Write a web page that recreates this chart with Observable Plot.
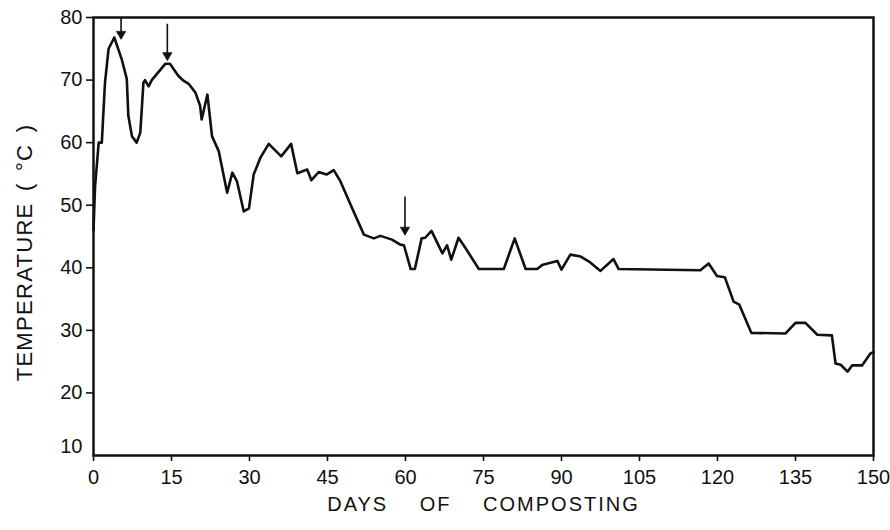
<!DOCTYPE html>
<html>
<head>
<meta charset="utf-8">
<script src="https://cdn.jsdelivr.net/npm/d3@7"></script>
<script src="https://cdn.jsdelivr.net/npm/@observablehq/plot@0.6"></script>
<style>
  html, body { margin: 0; padding: 0; background: #fff; }
  #chart { width: 890px; height: 530px; }
</style>
</head>
<body>
<div id="chart"></div>
<script>
// Days of composting and temperature (°C)
const days = [0, 0.3, 0.6, 1.0, 1.6, 2.2, 2.9, 4.0, 5.4, 6.4, 6.7, 7.4, 8.3, 9.0, 9.6, 9.9, 10.6, 11.2,
  13.8, 14.7, 16.3, 17.3, 18.3, 19.6, 20.5, 20.8, 21.9, 22.8, 24.1, 25.7, 26.7, 27.6, 28.9, 29.9,
  30.8, 32.1, 33.7, 36.1, 38.0, 39.2, 41.1, 41.9, 43.3, 44.8, 46.2, 47.5, 49.7, 52.0, 53.9, 55.2,
  57.4, 59.0, 59.7, 61.0, 61.8, 63.1, 63.8, 65.0, 67.1, 68.0, 68.8, 70.2, 71.5, 74.1, 78.9, 81.0,
  83.1, 85.3, 86.4, 89.2, 90.0, 91.7, 93.7, 95.3, 97.5, 100.0, 101.0, 116.7, 118.3, 119.9, 121.4,
  123.1, 124.2, 126.5, 133.1, 135.0, 136.9, 139.2, 142.0, 142.7, 143.7, 145.0, 145.9, 147.8, 149.4, 150];
const temps = [46, 53, 56, 60, 60, 69.5, 75, 76.8, 73.4, 70.2, 64.3, 61, 60, 61.6, 69.6, 70, 69, 70,
  72.6, 72.6, 70.7, 69.9, 69.4, 68, 65.9, 63.7, 67.7, 61, 58.6, 52, 55.2, 53.8, 49, 49.5,
  54.9, 57.6, 59.8, 57.8, 59.8, 55.1, 55.7, 54, 55.3, 54.9, 55.6, 53.8, 49.6, 45.3, 44.7, 45.1,
  44.5, 43.7, 43.6, 39.8, 39.8, 44.7, 44.8, 45.9, 42.3, 43.6, 41.3, 44.8, 43.2, 39.8, 39.8, 44.7,
  39.8, 39.8, 40.5, 41.1, 39.7, 42.1, 41.8, 41, 39.5, 41.4, 39.8, 39.6, 40.7, 38.7, 38.5,
  34.6, 34.1, 29.6, 29.5, 31.2, 31.2, 29.3, 29.2, 24.7, 24.5, 23.4, 24.4, 24.4, 26.3, 26.5];

// Arrows marking events
const arrowDays = [5.3, 14.2, 59.9];
const arrowFrom = [80, 79, 51.4];
const arrowTo = [76.8, 73.4, 45.5];

// Ticks and labels
const xTicks = [0, 15, 30, 45, 60, 75, 90, 105, 120, 135, 150];
const yTicks = [20, 30, 40, 50, 60, 70, 80];
const yBottomLabel = [10];
const xTitle = "DAYS OF COMPOSTING";
const yTitle = "TEMPERATURE ( °C )";

const series = days.map((d, i) => ({ day: d, temp: temps[i] }));
const arrows = arrowDays.map((d, i) => ({ day: d, from: arrowFrom[i], to: arrowTo[i] }));

const chart = Plot.plot({
  width: 890,
  height: 530,
  marginLeft: 93,
  marginRight: 17,
  marginTop: 17,
  marginBottom: 75,
  style: { fontFamily: "'Liberation Sans', Arial, sans-serif", background: "#fff", color: "#111" },
  x: { domain: [0, 150] },
  y: { domain: [10, 80] },
  marks: [
    Plot.axisX({ ticks: xTicks, tickSize: 6, tickPadding: 8, fontSize: 20, strokeWidth: 1.6, label: null, tickFormat: d => String(d) }),
    Plot.axisY({ ticks: yTicks, tickSize: 7, tickPadding: 4, fontSize: 20, strokeWidth: 1.6, label: null, tickFormat: d => String(d) }),
    Plot.text(yBottomLabel, { x: 0, y: d => d, text: d => String(d), dx: -11, dy: -9, textAnchor: "end", fontSize: 20, fill: "#111" }),
    Plot.frame({ stroke: "#111", strokeWidth: 2.5 }),
    Plot.line(series, { x: "day", y: "temp", stroke: "#111", strokeWidth: 2.6, strokeLinejoin: "round" }),
    Plot.link(arrows, { x1: "day", y1: "from", x2: "day", y2: "to", stroke: "#111", strokeWidth: 1.6 }),
    Plot.dot(arrows, { x: "day", y: "to", symbol: "triangle", rotate: 180, r: 3.4, fill: "#111", stroke: "#111", strokeWidth: 0.8, dy: -3.5 }),
    Plot.text([xTitle], { frameAnchor: "bottom", textAnchor: "middle", dy: 55, fontSize: 20, fill: "#111" }),
    Plot.text([yTitle], { frameAnchor: "left", textAnchor: "middle", dx: -69, dy: 16, rotate: -90, fontSize: 22, fill: "#111" })
  ]
});

d3.select(chart).selectAll("text").filter(function () { return this.textContent === xTitle; })
  .style("letter-spacing", "2px").style("word-spacing", "24px");
d3.select(chart).selectAll("text").filter(function () { return this.textContent === yTitle; })
  .style("letter-spacing", "1.3px").style("word-spacing", "4px");

document.getElementById("chart").appendChild(chart);
</script>
</body>
</html>
